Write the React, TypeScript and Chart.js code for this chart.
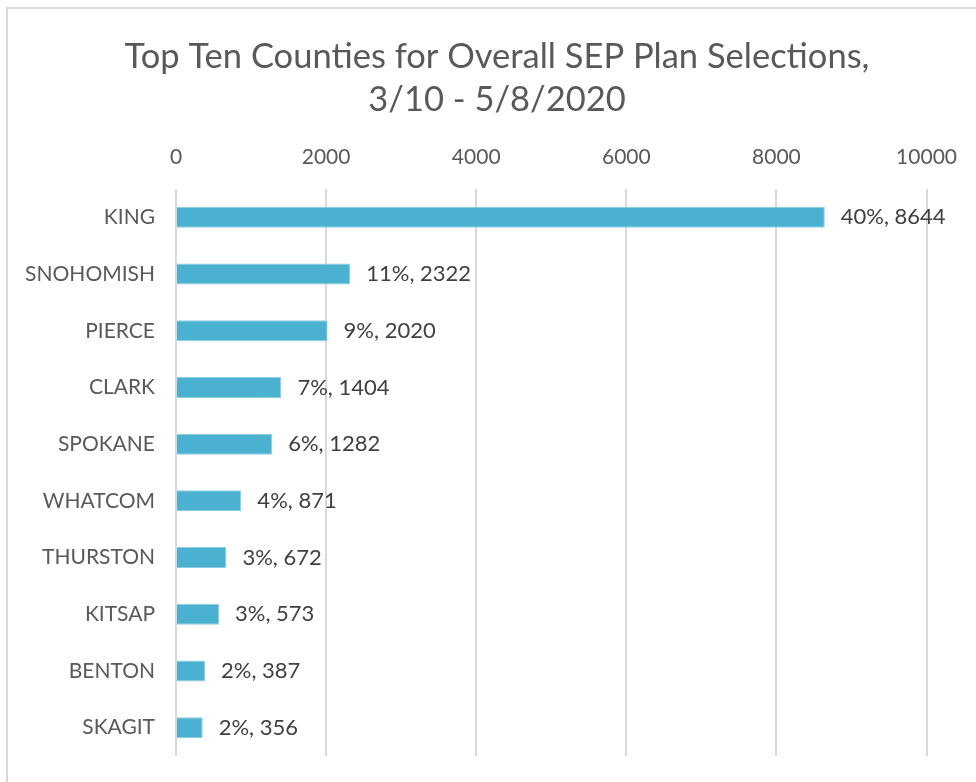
import React, { useEffect, useRef } from "react";
import { Chart, registerables } from "chart.js";

Chart.register(...registerables);

const counties = ["KING", "SNOHOMISH", "PIERCE", "CLARK", "SPOKANE", "WHATCOM", "THURSTON", "KITSAP", "BENTON", "SKAGIT"];
const selections = [8644, 2322, 2020, 1404, 1282, 871, 672, 573, 387, 356];
const shares = ["40%", "11%", "9%", "7%", "6%", "4%", "3%", "3%", "2%", "2%"];
const titleLines = ["Top Ten Counties for Overall SEP Plan Selections,", "3/10 - 5/8/2020"];
const xMax = 10000;
const xStep = 2000;

const FONT = "Lato, 'Open Sans', sans-serif";
const TEXT = "#595959";

const titlePlugin = {
  id: "customTitle",
  afterDraw(chart: any) {
    const ctx = chart.ctx;
    ctx.save();
    ctx.fillStyle = TEXT;
    ctx.font = `34.5px ${FONT}`;
    ctx.textAlign = "center";
    ctx.textBaseline = "middle";
    ctx.fillText(titleLines[0], 497, 57);
    ctx.fillText(titleLines[1], 497, 100);
    ctx.restore();
  },
};

const labelPlugin = {
  id: "barLabels",
  afterDatasetsDraw(chart: any) {
    const ctx = chart.ctx;
    const meta = chart.getDatasetMeta(0);
    ctx.save();
    ctx.fillStyle = "#404040";
    ctx.font = `22px ${FONT}`;
    ctx.textAlign = "left";
    ctx.textBaseline = "middle";
    meta.data.forEach((bar: any, i: number) => {
      ctx.fillText(`${shares[i]}, ${selections[i]}`, bar.x + 16, bar.y);
    });
    ctx.restore();
  },
};

export default function App() {
  const ref = useRef<HTMLCanvasElement>(null);
  useEffect(() => {
    if (!ref.current) return;
    const chart = new Chart(ref.current, {
      type: "bar",
      data: {
        labels: counties,
        datasets: [
          {
            data: selections,
            backgroundColor: "#4BB1D0",
            borderColor: "#8FCDE2",
            borderWidth: 1,
            barPercentage: 0.37,
            categoryPercentage: 1,
          },
        ],
      },
      options: {
        indexAxis: "y",
        responsive: false,
        animation: false,
        devicePixelRatio: 1,
        layout: { padding: { top: 121, bottom: 26, left: 0, right: 49 } },
        plugins: { legend: { display: false }, tooltip: { enabled: false }, title: { display: false } },
        scales: {
          x: {
            position: "top",
            min: 0,
            max: xMax,
            ticks: {
              stepSize: xStep,
              color: TEXT,
              font: { family: FONT, size: 21 },
              padding: 19,
              callback: (v: any) => String(v),
            },
            grid: { color: "#D9D9D9", lineWidth: 2, drawTicks: false },
            border: { display: false },
            afterFit: (s: any) => {
              s.height = 68;
            },
          },
          y: {
            ticks: { color: TEXT, font: { family: FONT, size: 21 }, padding: 21 },
            grid: { display: false, drawTicks: false },
            border: { display: false },
            afterFit: (s: any) => {
              s.width = 176;
              s.paddingTop = 0;
              s.paddingBottom = 0;
            },
          },
        },
      },
      plugins: [titlePlugin, labelPlugin],
    });
    return () => chart.destroy();
  }, []);

  return (
    <div style={{ position: "absolute", left: 0, top: 0, width: 976, height: 782, background: "#fff", overflow: "hidden" }}>
      <div
        style={{
          position: "absolute",
          left: 6,
          top: 7,
          width: 1000,
          height: 800,
          borderTop: "2px solid #D9D9D9",
          borderLeft: "2px solid #D9D9D9",
        }}
      />
      <canvas ref={ref} width={976} height={782} style={{ position: "absolute", left: 0, top: 0 }} />
    </div>
  );
}
